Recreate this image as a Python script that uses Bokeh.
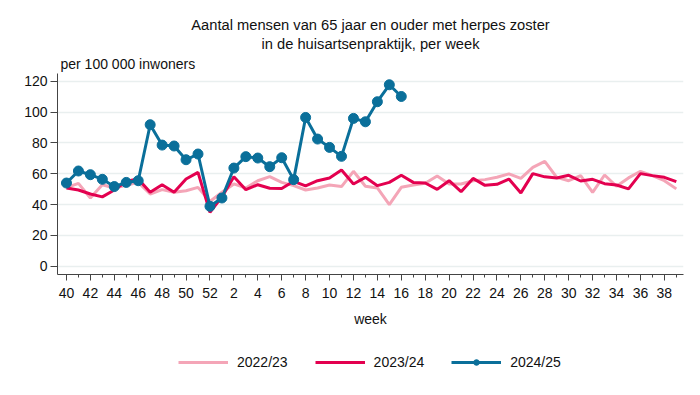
from bokeh.plotting import figure
from bokeh.layouts import column
from bokeh.models import (FixedTicker, Range1d, Title, Legend, LegendItem, ColumnDataSource)
from bokeh.embed import file_html
from bokeh.resources import INLINE

# ---- data ----
weeks = [40, 41, 42, 43, 44, 45, 46, 47, 48, 49, 50, 51, 52,
         1, 2, 3, 4, 5, 6, 7, 8, 9, 10, 11, 12, 13, 14, 15, 16, 17, 18, 19, 20,
         21, 22, 23, 24, 25, 26, 27, 28, 29, 30, 31, 32, 33, 34, 35, 36, 37, 38, 39]

s2022_23 = [51, 53.8, 44.3, 52.9, 50.8, 52.5, 54.4, 46.9, 49.7, 48, 49, 51.2, 42,
            48, 53.4, 50.8, 55.5, 58.1, 54.4, 52.3, 49.5, 50.8, 52.7, 51.7, 61.6, 51.9,
            50.8, 40, 51.2, 52.7, 53.8, 58.6, 53.4, 53.4, 55.5, 56.2, 57.7, 59.9, 57,
            64.1, 68, 57.7, 55.5, 58.8, 48, 59.2, 51.9, 57.3, 61.6, 58.8, 55.5, 50.2]

s2023_24 = [50.8, 49.5, 46.9, 45, 49.5, 55.1, 56.6, 48, 52.9, 48, 56.6, 60.9, 35,
            45, 58.1, 49.7, 52.9, 50.6, 50.4, 55.1, 52.1, 55.5, 57.3, 62.4, 53.4, 57.7,
            52.3, 54.4, 59, 54.4, 54, 49.9, 55.5, 48.4, 57, 52.5, 53.2, 56.6, 47.6,
            60.1, 58, 57.3, 59, 55.3, 56.4, 53.6, 52.7, 50.2, 60.1, 58.8, 57.7, 54.9]

s2024_25 = [54, 61.8, 59.4, 56.4, 51.7, 54.4, 55.5, 91.8, 78.6, 78, 69.1, 72.8, 38.9,
            44.3, 63.7, 71.1, 70.2, 64.6, 70.4, 56.2, 96.5, 82.5, 77.1, 71.3, 95.9, 93.7,
            106.7, 117.7, 110.1]

series_names = ["2022/23", "2023/24", "2024/25"]
y_ticks = [0, 20, 40, 60, 80, 100, 120]

title_lines = ["Aantal mensen van 65 jaar en ouder met herpes zoster",
               "in de huisartsenpraktijk, per week"]
y_unit = "per 100 000 inwoners"
x_title = "week"

# ---- colours / styles ----
PINK = "#f4a5b7"
RED = "#e3004f"
BLUE = "#0a6f9a"
FONT = "Liberation Sans"
TXT = "#111111"

pos = list(range(len(weeks)))
srcs = [ColumnDataSource(dict(x=pos, y=s2022_23)),
        ColumnDataSource(dict(x=pos, y=s2023_24)),
        ColumnDataSource(dict(x=pos[:len(s2024_25)], y=s2024_25))]
colors = [PINK, RED, BLUE]


def draw_series(fig, visible=True):
    rs = []
    for src, col in zip(srcs, colors):
        rs.append([fig.line("x", "y", source=src, line_color=col, line_width=3, visible=visible)])
    rs[2].append(fig.scatter("x", "y", source=srcs[2], size=10, fill_color=BLUE,
                             line_color=BLUE, visible=visible))
    return rs


# ---- main chart ----
p = figure(width=692, height=348, output_backend="svg", toolbar_location=None,
           title=None,
           min_border_left=57, min_border_right=9, min_border_top=73, min_border_bottom=74,
           x_range=Range1d(-0.75, 51.6), y_range=Range1d(-5.3, 125))
p.outline_line_color = None
p.background_fill_color = "white"
p.border_fill_color = "white"

draw_series(p)

# x axis
major = [i for i in pos if i % 2 == 0]
minor = [i for i in pos if i % 2 == 1]
p.xaxis.ticker = FixedTicker(ticks=major, minor_ticks=minor)
p.xaxis.major_label_overrides = {i: str(weeks[i]) for i in major}
p.xaxis.axis_label = x_title
p.xaxis.axis_label_text_font = FONT
p.xaxis.axis_label_text_font_size = "14px"
p.xaxis.axis_label_text_font_style = "normal"
p.xaxis.axis_label_text_color = TXT
p.xaxis.axis_label_standoff = 10
p.xaxis.major_tick_out = 6
p.xaxis.major_tick_in = 0
p.xaxis.minor_tick_out = 3
p.xaxis.minor_tick_in = 0
p.xaxis.major_label_standoff = 7

# y axis
p.yaxis.ticker = FixedTicker(ticks=y_ticks, minor_ticks=[])
p.yaxis.major_tick_out = 7
p.yaxis.major_tick_in = 0
p.yaxis.minor_tick_line_color = None
p.yaxis.major_label_standoff = 3

for ax in (p.xaxis, p.yaxis):
    ax.major_label_text_font = FONT
    ax.major_label_text_font_size = "14px"
    ax.major_label_text_color = TXT
    ax.axis_line_color = "#444444"
    ax.major_tick_line_color = "#444444"
    ax.minor_tick_line_color = "#444444"

p.xgrid.grid_line_color = None
p.ygrid.ticker = FixedTicker(ticks=y_ticks)
p.ygrid.grid_line_color = "#e9efef"
p.ygrid.grid_line_width = 1.5

# titles stacked above the frame (first added = nearest the frame)
p.add_layout(Title(text=y_unit, align="left", offset=3, text_font=FONT, text_font_size="14px",
                   text_font_style="normal", text_color=TXT, standoff=3), "above")
for line in reversed(title_lines):
    p.add_layout(Title(text=line, align="center", text_font=FONT, text_font_size="14.7px",
                       text_font_style="normal", text_color=TXT, standoff=1), "above")

# ---- legend strip ----
pl = figure(width=692, height=39, output_backend="svg", toolbar_location=None,
            title=None, x_axis_type=None, y_axis_type=None,
            min_border_left=0, min_border_right=0, min_border_top=0, min_border_bottom=0,
            x_range=Range1d(-0.75, 51.6), y_range=Range1d(-5.3, 125))
pl.outline_line_color = None
pl.grid.visible = False
pl.background_fill_color = "white"
pl.border_fill_color = "white"
lr = draw_series(pl, visible=False)

legend = Legend(items=[LegendItem(label=name, renderers=rr) for name, rr in zip(series_names, lr)],
                orientation="horizontal", location=(121, 17),
                glyph_width=50, glyph_height=14, label_standoff=9, spacing=27,
                padding=0, margin=0, border_line_color=None, background_fill_alpha=0,
                label_text_font=FONT, label_text_font_size="14px", label_text_color=TXT,
                inactive_fill_alpha=0)
pl.add_layout(legend, "center")

open("out.html", "w").write(file_html(column(p, pl, spacing=0), INLINE))
